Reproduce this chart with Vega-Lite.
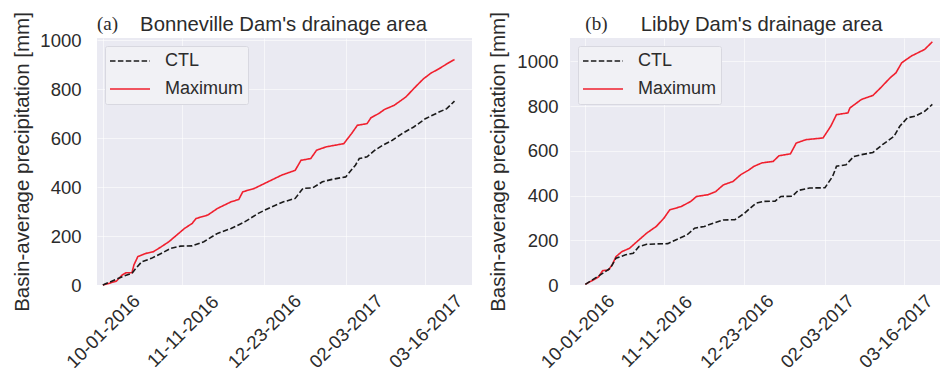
{
  "$schema": "https://vega.github.io/schema/vega-lite/v6.json",
  "padding": {"left": 12, "top": 11, "right": 0, "bottom": 0},
  "spacing": 16,
  "resolve": {"scale": {"color": "independent", "strokeDash": "independent"}},
  "config": {
    "view": {"fill": "#EAEAF2", "stroke": null},
    "font": "Liberation Sans",
    "axis": {
      "grid": true, "gridColor": "#FFFFFF", "gridWidth": 1, "gridOpacity": 0.55,
      "domain": false, "ticks": false,
      "labelFont": "Liberation Sans", "labelFontSize": 18.5, "labelColor": "#2B2B2B",
      "titleFont": "Liberation Sans", "titleFontSize": 20.5, "titleFontWeight": "normal", "titleColor": "#2B2B2B"
    },
    "legend": {
      "orient": "top-left", "offset": 8, "title": null,
      "fillColor": "#F1F1F5", "strokeColor": "#D8D8E0", "cornerRadius": 2, "padding": 4,
      "symbolType": "stroke", "symbolSize": 1600, "symbolStrokeWidth": 1.6,
      "clipHeight": 22,
      "labelFont": "Liberation Sans", "labelFontSize": 18, "labelColor": "#2B2B2B",
      "labelOffset": 14, "rowPadding": 6
    }
  },
  "datasets": {
    "bonneville": [
      {"date": "2016-10-01", "series": "Maximum", "precip": 0},
      {"date": "2016-10-03", "series": "Maximum", "precip": 4},
      {"date": "2016-10-08", "series": "Maximum", "precip": 16},
      {"date": "2016-10-11", "series": "Maximum", "precip": 41},
      {"date": "2016-10-13", "series": "Maximum", "precip": 50},
      {"date": "2016-10-16", "series": "Maximum", "precip": 50},
      {"date": "2016-10-17", "series": "Maximum", "precip": 82},
      {"date": "2016-10-19", "series": "Maximum", "precip": 116},
      {"date": "2016-10-23", "series": "Maximum", "precip": 129},
      {"date": "2016-10-27", "series": "Maximum", "precip": 136},
      {"date": "2016-10-31", "series": "Maximum", "precip": 156},
      {"date": "2016-11-04", "series": "Maximum", "precip": 177},
      {"date": "2016-11-08", "series": "Maximum", "precip": 204},
      {"date": "2016-11-12", "series": "Maximum", "precip": 231},
      {"date": "2016-11-16", "series": "Maximum", "precip": 252},
      {"date": "2016-11-18", "series": "Maximum", "precip": 272},
      {"date": "2016-11-24", "series": "Maximum", "precip": 286},
      {"date": "2016-11-29", "series": "Maximum", "precip": 313},
      {"date": "2016-12-06", "series": "Maximum", "precip": 340},
      {"date": "2016-12-10", "series": "Maximum", "precip": 350},
      {"date": "2016-12-12", "series": "Maximum", "precip": 381},
      {"date": "2016-12-18", "series": "Maximum", "precip": 395},
      {"date": "2016-12-25", "series": "Maximum", "precip": 422},
      {"date": "2017-01-01", "series": "Maximum", "precip": 449},
      {"date": "2017-01-08", "series": "Maximum", "precip": 469},
      {"date": "2017-01-11", "series": "Maximum", "precip": 510},
      {"date": "2017-01-16", "series": "Maximum", "precip": 517},
      {"date": "2017-01-19", "series": "Maximum", "precip": 551},
      {"date": "2017-01-24", "series": "Maximum", "precip": 565},
      {"date": "2017-02-02", "series": "Maximum", "precip": 578},
      {"date": "2017-02-06", "series": "Maximum", "precip": 619},
      {"date": "2017-02-09", "series": "Maximum", "precip": 653},
      {"date": "2017-02-14", "series": "Maximum", "precip": 660},
      {"date": "2017-02-16", "series": "Maximum", "precip": 684},
      {"date": "2017-02-20", "series": "Maximum", "precip": 701},
      {"date": "2017-02-23", "series": "Maximum", "precip": 718},
      {"date": "2017-02-28", "series": "Maximum", "precip": 735},
      {"date": "2017-03-06", "series": "Maximum", "precip": 769},
      {"date": "2017-03-10", "series": "Maximum", "precip": 803},
      {"date": "2017-03-15", "series": "Maximum", "precip": 843},
      {"date": "2017-03-19", "series": "Maximum", "precip": 867},
      {"date": "2017-03-23", "series": "Maximum", "precip": 884},
      {"date": "2017-03-27", "series": "Maximum", "precip": 904},
      {"date": "2017-03-31", "series": "Maximum", "precip": 922},
      {"date": "2016-10-01", "series": "CTL", "precip": 0},
      {"date": "2016-10-11", "series": "CTL", "precip": 34},
      {"date": "2016-10-16", "series": "CTL", "precip": 48},
      {"date": "2016-10-18", "series": "CTL", "precip": 68},
      {"date": "2016-10-21", "series": "CTL", "precip": 95},
      {"date": "2016-10-26", "series": "CTL", "precip": 109},
      {"date": "2016-10-31", "series": "CTL", "precip": 129},
      {"date": "2016-11-05", "series": "CTL", "precip": 150},
      {"date": "2016-11-10", "series": "CTL", "precip": 159},
      {"date": "2016-11-16", "series": "CTL", "precip": 160},
      {"date": "2016-11-22", "series": "CTL", "precip": 177},
      {"date": "2016-11-29", "series": "CTL", "precip": 211},
      {"date": "2016-12-06", "series": "CTL", "precip": 231},
      {"date": "2016-12-13", "series": "CTL", "precip": 258},
      {"date": "2016-12-20", "series": "CTL", "precip": 293},
      {"date": "2016-12-27", "series": "CTL", "precip": 320},
      {"date": "2017-01-02", "series": "CTL", "precip": 340},
      {"date": "2017-01-08", "series": "CTL", "precip": 354},
      {"date": "2017-01-12", "series": "CTL", "precip": 395},
      {"date": "2017-01-17", "series": "CTL", "precip": 397},
      {"date": "2017-01-22", "series": "CTL", "precip": 422},
      {"date": "2017-01-27", "series": "CTL", "precip": 432},
      {"date": "2017-02-03", "series": "CTL", "precip": 442},
      {"date": "2017-02-08", "series": "CTL", "precip": 490},
      {"date": "2017-02-10", "series": "CTL", "precip": 517},
      {"date": "2017-02-14", "series": "CTL", "precip": 524},
      {"date": "2017-02-18", "series": "CTL", "precip": 551},
      {"date": "2017-02-22", "series": "CTL", "precip": 571},
      {"date": "2017-02-27", "series": "CTL", "precip": 592},
      {"date": "2017-03-04", "series": "CTL", "precip": 619},
      {"date": "2017-03-10", "series": "CTL", "precip": 646},
      {"date": "2017-03-16", "series": "CTL", "precip": 680},
      {"date": "2017-03-23", "series": "CTL", "precip": 707},
      {"date": "2017-03-27", "series": "CTL", "precip": 721},
      {"date": "2017-03-31", "series": "CTL", "precip": 752}
    ],
    "libby": [
      {"date": "2016-10-01", "series": "Maximum", "precip": 3},
      {"date": "2016-10-05", "series": "Maximum", "precip": 22},
      {"date": "2016-10-08", "series": "Maximum", "precip": 37},
      {"date": "2016-10-10", "series": "Maximum", "precip": 64},
      {"date": "2016-10-13", "series": "Maximum", "precip": 67},
      {"date": "2016-10-15", "series": "Maximum", "precip": 90},
      {"date": "2016-10-17", "series": "Maximum", "precip": 127},
      {"date": "2016-10-20", "series": "Maximum", "precip": 149},
      {"date": "2016-10-24", "series": "Maximum", "precip": 164},
      {"date": "2016-10-27", "series": "Maximum", "precip": 187},
      {"date": "2016-10-29", "series": "Maximum", "precip": 202},
      {"date": "2016-11-02", "series": "Maximum", "precip": 232},
      {"date": "2016-11-07", "series": "Maximum", "precip": 262},
      {"date": "2016-11-11", "series": "Maximum", "precip": 299},
      {"date": "2016-11-14", "series": "Maximum", "precip": 336},
      {"date": "2016-11-20", "series": "Maximum", "precip": 351},
      {"date": "2016-11-25", "series": "Maximum", "precip": 374},
      {"date": "2016-11-28", "series": "Maximum", "precip": 396},
      {"date": "2016-12-04", "series": "Maximum", "precip": 404},
      {"date": "2016-12-08", "series": "Maximum", "precip": 418},
      {"date": "2016-12-12", "series": "Maximum", "precip": 448},
      {"date": "2016-12-17", "series": "Maximum", "precip": 463},
      {"date": "2016-12-21", "series": "Maximum", "precip": 493},
      {"date": "2016-12-25", "series": "Maximum", "precip": 513},
      {"date": "2016-12-28", "series": "Maximum", "precip": 531},
      {"date": "2017-01-01", "series": "Maximum", "precip": 546},
      {"date": "2017-01-07", "series": "Maximum", "precip": 553},
      {"date": "2017-01-10", "series": "Maximum", "precip": 578},
      {"date": "2017-01-16", "series": "Maximum", "precip": 587},
      {"date": "2017-01-19", "series": "Maximum", "precip": 635},
      {"date": "2017-01-24", "series": "Maximum", "precip": 650},
      {"date": "2017-02-02", "series": "Maximum", "precip": 658},
      {"date": "2017-02-06", "series": "Maximum", "precip": 710},
      {"date": "2017-02-09", "series": "Maximum", "precip": 762},
      {"date": "2017-02-15", "series": "Maximum", "precip": 770},
      {"date": "2017-02-16", "series": "Maximum", "precip": 792},
      {"date": "2017-02-22", "series": "Maximum", "precip": 830},
      {"date": "2017-02-28", "series": "Maximum", "precip": 848},
      {"date": "2017-03-04", "series": "Maximum", "precip": 882},
      {"date": "2017-03-09", "series": "Maximum", "precip": 927},
      {"date": "2017-03-12", "series": "Maximum", "precip": 949},
      {"date": "2017-03-15", "series": "Maximum", "precip": 994},
      {"date": "2017-03-20", "series": "Maximum", "precip": 1024},
      {"date": "2017-03-27", "series": "Maximum", "precip": 1054},
      {"date": "2017-03-31", "series": "Maximum", "precip": 1088},
      {"date": "2016-10-01", "series": "CTL", "precip": 3},
      {"date": "2016-10-10", "series": "CTL", "precip": 52},
      {"date": "2016-10-14", "series": "CTL", "precip": 75},
      {"date": "2016-10-17", "series": "CTL", "precip": 120},
      {"date": "2016-10-22", "series": "CTL", "precip": 135},
      {"date": "2016-10-26", "series": "CTL", "precip": 142},
      {"date": "2016-10-29", "series": "CTL", "precip": 172},
      {"date": "2016-11-02", "series": "CTL", "precip": 182},
      {"date": "2016-11-07", "series": "CTL", "precip": 184},
      {"date": "2016-11-13", "series": "CTL", "precip": 185},
      {"date": "2016-11-18", "series": "CTL", "precip": 205},
      {"date": "2016-11-23", "series": "CTL", "precip": 224},
      {"date": "2016-11-27", "series": "CTL", "precip": 254},
      {"date": "2016-12-02", "series": "CTL", "precip": 262},
      {"date": "2016-12-07", "series": "CTL", "precip": 277},
      {"date": "2016-12-12", "series": "CTL", "precip": 291},
      {"date": "2016-12-18", "series": "CTL", "precip": 292},
      {"date": "2016-12-23", "series": "CTL", "precip": 321},
      {"date": "2016-12-29", "series": "CTL", "precip": 366},
      {"date": "2017-01-02", "series": "CTL", "precip": 374},
      {"date": "2017-01-08", "series": "CTL", "precip": 375},
      {"date": "2017-01-11", "series": "CTL", "precip": 396},
      {"date": "2017-01-17", "series": "CTL", "precip": 397},
      {"date": "2017-01-20", "series": "CTL", "precip": 423},
      {"date": "2017-01-26", "series": "CTL", "precip": 434},
      {"date": "2017-02-03", "series": "CTL", "precip": 435},
      {"date": "2017-02-07", "series": "CTL", "precip": 486},
      {"date": "2017-02-09", "series": "CTL", "precip": 531},
      {"date": "2017-02-14", "series": "CTL", "precip": 538},
      {"date": "2017-02-18", "series": "CTL", "precip": 575},
      {"date": "2017-02-22", "series": "CTL", "precip": 583},
      {"date": "2017-02-28", "series": "CTL", "precip": 593},
      {"date": "2017-03-05", "series": "CTL", "precip": 628},
      {"date": "2017-03-11", "series": "CTL", "precip": 665},
      {"date": "2017-03-14", "series": "CTL", "precip": 710},
      {"date": "2017-03-18", "series": "CTL", "precip": 748},
      {"date": "2017-03-22", "series": "CTL", "precip": 755},
      {"date": "2017-03-27", "series": "CTL", "precip": 777},
      {"date": "2017-03-31", "series": "CTL", "precip": 808}
    ]
  },
  "hconcat": [
    {
      "width": 375,
      "height": 247,
      "layer": [
        {
          "data": {"name": "bonneville"},
          "mark": {"type": "line", "strokeWidth": 1.6},
          "encoding": {
            "x": {
              "field": "date", "type": "temporal",
              "scale": {"type": "utc", "domain": [{"year": 2016, "month": 9, "date": 28, "utc": true}, {"year": 2017, "month": 4, "date": 9, "utc": true}]},
              "axis": {
                "title": null, "format": "%m-%d-%Y",
                "values": [{"year": 2016, "month": 10, "date": 1, "utc": true}, {"year": 2016, "month": 11, "date": 11, "utc": true}, {"year": 2016, "month": 12, "date": 23, "utc": true}, {"year": 2017, "month": 2, "date": 3, "utc": true}, {"year": 2017, "month": 3, "date": 16, "utc": true}],
                "labelAngle": -45, "labelAlign": "center", "labelBaseline": "middle", "labelPadding": 46, "labelOverlap": false, "labelFlush": false
              }
            },
            "y": {
              "field": "precip", "type": "quantitative",
              "scale": {"domain": [0, 1010], "nice": false},
              "axis": {"values": [0, 200, 400, 600, 800, 1000], "format": "d", "title": "Basin-average precipitation [mm]", "labelPadding": 16, "titlePadding": 7}
            },
            "color": {"field": "series", "type": "nominal", "scale": {"domain": ["CTL", "Maximum"], "range": ["#1A1A1A", "#F0202E"]}},
            "strokeDash": {"field": "series", "type": "nominal", "scale": {"domain": ["CTL", "Maximum"], "range": [[5.5, 2.4], [1, 0]]}}
          }
        },
        {
          "data": {"values": [{}]},
          "mark": {"type": "text", "font": "Liberation Serif", "fontSize": 19, "align": "left", "baseline": "alphabetic", "dy": -8, "color": "#2B2B2B"},
          "encoding": {
            "x": {"datum": {"year": 2016, "month": 9, "date": 28, "utc": true}, "type": "temporal"},
            "y": {"datum": 1010, "type": "quantitative"},
            "text": {"value": "(a)"}
          }
        },
        {
          "data": {"values": [{}]},
          "mark": {"type": "text", "font": "Liberation Sans", "fontSize": 20.3, "align": "center", "baseline": "alphabetic", "dy": -7, "color": "#2B2B2B"},
          "encoding": {
            "x": {"datum": {"year": 2017, "month": 1, "date": 2, "utc": true}, "type": "temporal"},
            "y": {"datum": 1010, "type": "quantitative"},
            "text": {"value": "Bonneville Dam's drainage area"}
          }
        }
      ]
    },
    {
      "width": 370,
      "height": 247,
      "layer": [
        {
          "data": {"name": "libby"},
          "mark": {"type": "line", "strokeWidth": 1.6},
          "encoding": {
            "x": {
              "field": "date", "type": "temporal",
              "scale": {"type": "utc", "domain": [{"year": 2016, "month": 9, "date": 23, "utc": true}, {"year": 2017, "month": 4, "date": 4, "utc": true}]},
              "axis": {
                "title": null, "format": "%m-%d-%Y",
                "values": [{"year": 2016, "month": 10, "date": 1, "utc": true}, {"year": 2016, "month": 11, "date": 11, "utc": true}, {"year": 2016, "month": 12, "date": 23, "utc": true}, {"year": 2017, "month": 2, "date": 3, "utc": true}, {"year": 2017, "month": 3, "date": 16, "utc": true}],
                "labelAngle": -45, "labelAlign": "center", "labelBaseline": "middle", "labelPadding": 46, "labelOffset": -8, "labelOverlap": false, "labelFlush": false
              }
            },
            "y": {
              "field": "precip", "type": "quantitative",
              "scale": {"domain": [0, 1105], "nice": false},
              "axis": {"values": [0, 200, 400, 600, 800, 1000], "format": "d", "title": "Basin-average precipitation [mm]", "labelPadding": 12, "titlePadding": 8}
            },
            "color": {"field": "series", "type": "nominal", "scale": {"domain": ["CTL", "Maximum"], "range": ["#1A1A1A", "#F0202E"]}},
            "strokeDash": {"field": "series", "type": "nominal", "scale": {"domain": ["CTL", "Maximum"], "range": [[5.5, 2.4], [1, 0]]}}
          }
        },
        {
          "data": {"values": [{}]},
          "mark": {"type": "text", "font": "Liberation Serif", "fontSize": 19, "align": "left", "baseline": "alphabetic", "dy": -8, "color": "#2B2B2B"},
          "encoding": {
            "x": {"datum": {"year": 2016, "month": 10, "date": 1, "utc": true}, "type": "temporal"},
            "y": {"datum": 1105, "type": "quantitative"},
            "text": {"value": "(b)"}
          }
        },
        {
          "data": {"values": [{}]},
          "mark": {"type": "text", "font": "Liberation Sans", "fontSize": 20.3, "align": "center", "baseline": "alphabetic", "dy": -7, "color": "#2B2B2B"},
          "encoding": {
            "x": {"datum": {"year": 2017, "month": 1, "date": 1, "utc": true}, "type": "temporal"},
            "y": {"datum": 1105, "type": "quantitative"},
            "text": {"value": "Libby Dam's drainage area"}
          }
        }
      ]
    }
  ]
}
